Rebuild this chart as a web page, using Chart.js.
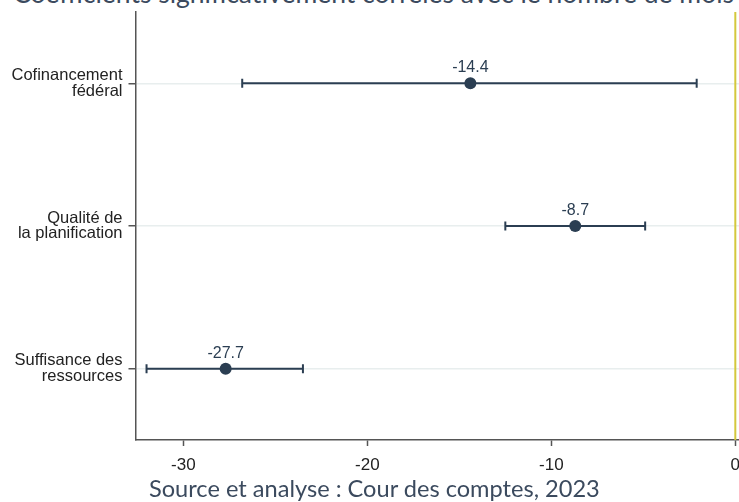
<!DOCTYPE html>
<html lang="fr">
<head>
<meta charset="utf-8">
<script src="https://cdn.jsdelivr.net/npm/chart.js@4/dist/chart.umd.min.js"></script>
<style>
  html, body { margin: 0; padding: 0; background: #fff; overflow: hidden; }
  #wrap { position: relative; width: 739px; height: 502px; overflow: hidden; }
  #chart { position: absolute; left: 0; top: 0; }
  .note { position: absolute; white-space: nowrap; font-family: Lato, sans-serif; color: #3b4a5e; }
  #title { left: 13px; top: -23px; font-size: 26.5px; }
  #source { left: 149px; top: 474px; font-size: 23.6px; }
</style>
</head>
<body>
<div id="wrap">
  <div id="title" class="note">Coefficients significativement corrélés avec le nombre de mois de retard</div>
  <canvas id="chart" width="745" height="502"></canvas>
  <div id="source" class="note">Source et analyse : Cour des comptes, 2023</div>
</div>
<script>
// Variables explicatives (une ligne chacune)
const categories = [["Cofinancement", "fédéral"], ["Qualité de", "la planification"], ["Suffisance des", "ressources"]];
// Coefficient estimé
const coefficients = [-14.4, -8.7, -27.7];
// Bornes de l'intervalle de confiance
const lowerBounds = [-26.8, -12.5, -32.0];
const upperBounds = [-2.1, -4.9, -23.5];
// Graduations de l'axe horizontal
const xTicks = [-30, -20, -10, 0];

const markColor = '#2b3e52';
const axisColor = '#555555';

// Intervalles de confiance, valeurs affichées et ligne du zéro
const intervalPlugin = {
  id: 'intervals',
  beforeDatasetsDraw(chart) {
    const { ctx, chartArea, scales } = chart;
    const x = scales.x;
    // ligne de référence à zéro
    const x0 = x.getPixelForValue(0);
    ctx.save();
    ctx.strokeStyle = '#d4c83c';
    ctx.lineWidth = 2;
    ctx.beginPath();
    ctx.moveTo(x0, chartArea.top);
    ctx.lineTo(x0, chartArea.bottom);
    ctx.stroke();

    const meta = chart.getDatasetMeta(0);
    ctx.strokeStyle = markColor;
    ctx.lineWidth = 2;
    meta.data.forEach((pt, i) => {
      const y = pt.y;
      const xl = x.getPixelForValue(lowerBounds[i]);
      const xr = x.getPixelForValue(upperBounds[i]);
      ctx.beginPath();
      ctx.moveTo(xl, y); ctx.lineTo(xr, y);
      ctx.moveTo(xl, y - 4.5); ctx.lineTo(xl, y + 4.5);
      ctx.moveTo(xr, y - 4.5); ctx.lineTo(xr, y + 4.5);
      ctx.stroke();
    });
    ctx.restore();
  },
  afterDatasetsDraw(chart) {
    const { ctx } = chart;
    const meta = chart.getDatasetMeta(0);
    ctx.save();
    ctx.fillStyle = markColor;
    ctx.font = '16px "Liberation Sans", Arial, sans-serif';
    ctx.textAlign = 'center';
    ctx.textBaseline = 'alphabetic';
    meta.data.forEach((pt, i) => {
      ctx.fillText(coefficients[i].toFixed(1), pt.x, pt.y - 11);
    });
    ctx.restore();
  }
};

new Chart(document.getElementById('chart'), {
  type: 'line',
  data: {
    labels: categories,
    datasets: [{
      data: coefficients,
      showLine: false,
      pointRadius: 6,
      pointHoverRadius: 6,
      pointBackgroundColor: markColor,
      pointBorderColor: markColor,
      pointBorderWidth: 0
    }]
  },
  options: {
    indexAxis: 'y',
    responsive: false,
    animation: false,
    layout: { padding: { top: 12, right: 0, bottom: 0, left: 0 } },
    plugins: { legend: { display: false }, tooltip: { enabled: false }, title: { display: false } },
    scales: {
      x: {
        type: 'linear',
        min: -32.6,
        max: 0.2,
        afterBuildTicks(scale) { scale.ticks = xTicks.map(v => ({ value: v })); },
        afterFit(scale) { scale.height = 62; scale.paddingLeft = 0; scale.paddingRight = 0; },
        border: { color: axisColor, width: 1.5 },
        grid: { drawOnChartArea: false, tickColor: axisColor, tickLength: 6, tickWidth: 1.5 },
        ticks: {
          color: '#222',
          font: { family: '"Liberation Sans", Arial, sans-serif', size: 17 },
          padding: 9,
          maxRotation: 0,
          autoSkip: false
        }
      },
      y: {
        type: 'category',
        offset: true,
        afterFit(scale) { scale.width = 135.5; scale.paddingTop = 0; scale.paddingBottom = 0; },
        border: { color: axisColor, width: 1.5 },
        grid: { color: '#e8eeee', lineWidth: 1.5, tickColor: axisColor, tickLength: 7, tickWidth: 1.5, offset: false },
        ticks: {
          color: '#222',
          font: { family: '"Liberation Sans", Arial, sans-serif', size: 16.5, lineHeight: 0.95 },
          padding: 6,
          crossAlign: 'near'
        }
      }
    }
  },
  plugins: [intervalPlugin]
});
</script>
</body>
</html>
